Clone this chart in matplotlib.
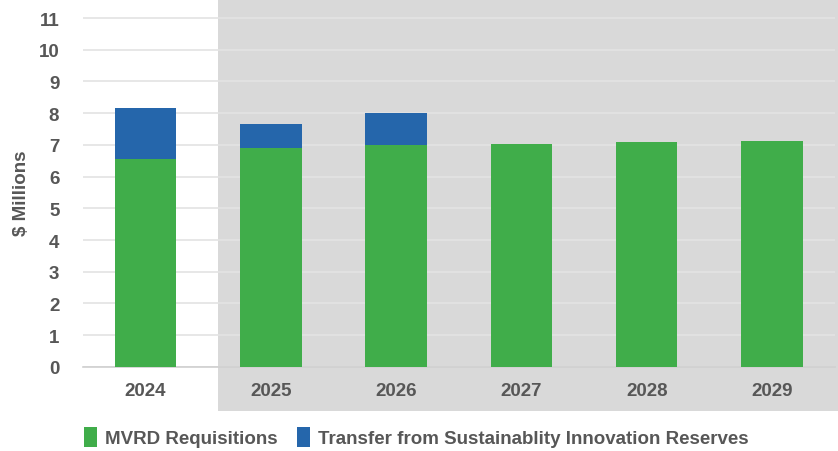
import matplotlib
matplotlib.use("Agg")
import matplotlib.pyplot as plt
from matplotlib.patches import Rectangle, Patch

years = ["2024", "2025", "2026", "2027", "2028", "2029"]
mvrd_requisitions = [6.54, 6.90, 6.99, 7.03, 7.08, 7.13]
reserve_transfer = [1.63, 0.77, 1.03, 0.0, 0.0, 0.0]

GREEN = "#40ad4a"
BLUE = "#2566ab"
TEXT = "#575757"
SHADE = "#d9d9d9"
GRID = "#e3e3e3"
FS = 13.5

plt.rcParams["font.family"] = ["Liberation Sans", "DejaVu Sans"]
plt.rcParams["font.weight"] = "bold"

fig = plt.figure(figsize=(8.38, 4.52), dpi=100)
ax = fig.add_axes([0.099, 0.186, 0.897, 0.807])

x = list(range(len(years)))
ax.bar(x, mvrd_requisitions, width=0.49, color=GREEN, zorder=3)
ax.bar(x, reserve_transfer, width=0.49, bottom=mvrd_requisitions,
       color=BLUE, zorder=3)

ax.set_xlim(-0.5, len(years) - 0.5)
ax.set_ylim(0, 11.5)
ax.set_yticks(range(0, 12))
ax.set_xticks(x)
ax.set_xticklabels(years)

# shaded projection period, extending down behind the year labels
ax.add_patch(Rectangle((0.575, -1.39), 10, 13, transform=ax.transData,
                       facecolor=SHADE, edgecolor="none", zorder=0,
                       clip_on=False))

ax.yaxis.grid(True, color=GRID, linewidth=1.2, zorder=1)
ax.set_axisbelow(True)
for side in ("left", "right", "top"):
    ax.spines[side].set_visible(False)
ax.spines["bottom"].set_color("#d0d0d0")
ax.spines["bottom"].set_linewidth(1.2)
ax.spines["bottom"].set_zorder(2)
ax.patch.set_visible(False)

ax.tick_params(axis="both", length=0, labelsize=FS, labelcolor=TEXT)
ax.tick_params(axis="x", pad=11)
ax.tick_params(axis="y", pad=17)
for lbl in ax.get_xticklabels() + ax.get_yticklabels():
    lbl.set_fontweight("bold")

ax.set_ylabel(r"\$ Millions", fontsize=FS, color=TEXT, fontweight="bold")
ax.yaxis.set_label_coords(-0.070, 0.478)

handles = [Patch(facecolor=GREEN, label="MVRD Requisitions"),
           Patch(facecolor=BLUE, label="Transfer from Sustainablity Innovation Reserves")]
leg = fig.legend(handles=handles, loc="center left",
                 bbox_to_anchor=(0.08, 0.031), ncol=2, frameon=False,
                 fontsize=FS, handlelength=0.7, handleheight=1.25,
                 handletextpad=0.45, columnspacing=1.0)
for t in leg.get_texts():
    t.set_color(TEXT)
    t.set_fontweight("bold")

fig.savefig("out.png", dpi=100)
